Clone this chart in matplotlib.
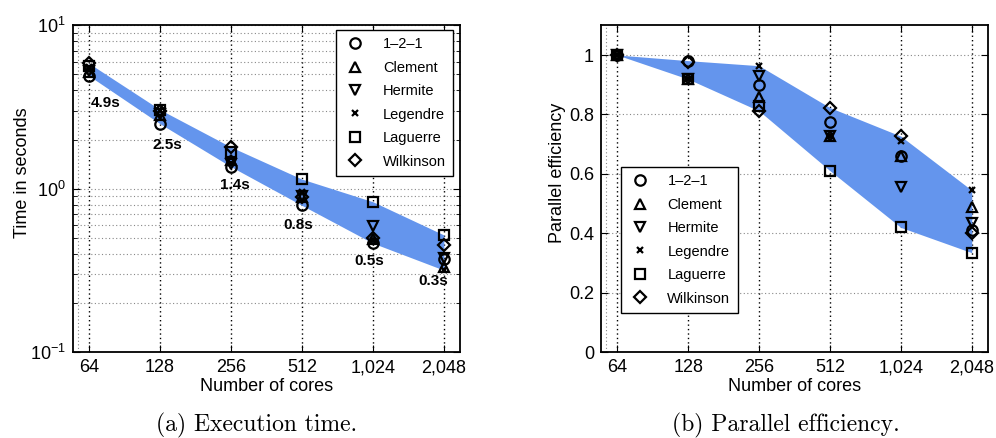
import numpy as np
import matplotlib
matplotlib.use('Agg')
import matplotlib.pyplot as plt
from matplotlib.ticker import FixedLocator, LogLocator, NullFormatter

plt.rcParams['font.family'] = ['Liberation Sans', 'DejaVu Sans']
plt.rcParams['mathtext.fontset'] = 'custom'
plt.rcParams['mathtext.rm'] = 'Liberation Sans'
plt.rcParams['mathtext.it'] = 'Liberation Sans:italic'
plt.rcParams['mathtext.bf'] = 'Liberation Sans:bold'

CORES = [64, 128, 256, 512, 1024, 2048]
CORE_LABELS = ['64', '128', '256', '512', '1,024', '2,048']
METHODS = ['1\u20132\u20131', 'Clement', 'Hermite', 'Legendre', 'Laguerre', 'Wilkinson']
MARKERS = ['o', '^', 'v', 'x', 's', 'D']

# execution time in seconds, one list per method
time_121 = [4.91, 2.50, 1.365, 0.792, 0.465, 0.372]
time_clement = [5.20, 2.83, 1.51, 0.894, 0.492, 0.332]
time_hermite = [5.25, 2.86, 1.414, 0.903, 0.590, 0.377]
time_legendre = [5.55, 3.02, 1.44, 0.954, 0.489, 0.318]
time_laguerre = [5.60, 3.05, 1.69, 1.146, 0.833, 0.522]
time_wilkinson = [5.85, 3.00, 1.80, 0.888, 0.503, 0.456]

# parallel efficiency, one list per method
eff_121 = [1.0, 0.981, 0.899, 0.775, 0.660, 0.412]
eff_clement = [1.0, 0.919, 0.860, 0.727, 0.660, 0.489]
eff_hermite = [1.0, 0.919, 0.928, 0.727, 0.556, 0.435]
eff_legendre = [1.0, 0.919, 0.964, 0.727, 0.710, 0.545]
eff_laguerre = [1.0, 0.919, 0.827, 0.611, 0.420, 0.335]
eff_wilkinson = [1.0, 0.975, 0.812, 0.823, 0.727, 0.401]

TIME_LABELS = ['4.9s', '2.5s', '1.4s', '0.8s', '0.5s', '0.3s']
TIME_LABEL_VALUES = [4.9, 2.5, 1.4, 0.8, 0.5, 0.3]
# label offsets in pixels (dx, dy) from the labelled value
LABEL_OFFSETS = [(17, -27), (7, -21), (4, -20), (-4, -20), (-4, -23), (-11, -7)]

BAND_COLOR = '#6495ED'


def style_axis(ax):
    x = np.log2(CORES)
    ax.set_xlim(x[0] - 0.23, x[-1] + 0.23)
    ax.xaxis.set_major_locator(FixedLocator(x))
    ax.set_xticklabels(CORE_LABELS)
    ax.xaxis.set_minor_locator(FixedLocator([x[0] - 0.155]))
    ax.grid(True, which='major', axis='x', linestyle=(0, (1, 2.2)), color='black', linewidth=1.0)
    ax.grid(True, which='minor', axis='x', linestyle=(0, (1, 2.2)), color='#888888', linewidth=0.8)
    ax.tick_params(which='both', direction='in', top=True, right=True, labelsize=13, pad=5)
    ax.tick_params(which='major', length=5, width=0.8)
    ax.tick_params(which='minor', length=3, width=0.6)
    ax.tick_params(axis='x', which='minor', length=0)
    for s in ax.spines.values():
        s.set_linewidth(1.3)
    ax.set_xlabel('Number of cores', fontsize=13)
    ax.xaxis.set_label_coords(0.5, -0.08)
    ax.set_axisbelow(True)


def plot_series(ax, series):
    x = np.log2(CORES)
    data = np.array(series)
    ax.fill_between(x, data.min(axis=0), data.max(axis=0), color=BAND_COLOR, linewidth=0, zorder=1)
    handles = []
    for vals, m, name in zip(series, MARKERS, METHODS):
        ms = 5 if m == 'x' else (6 if m == 'D' else 7.5)
        h, = ax.plot(x, vals, linestyle='none', marker=m, markersize=ms, markerfacecolor='none',
                     markeredgecolor='black', markeredgewidth=1.6, color='black', label=name, zorder=3)
        handles.append(h)
    return handles


fig = plt.figure(figsize=(9.96, 4.38), dpi=100)
ax1 = fig.add_axes([0.073, 0.1957, 0.389, 0.7466])
ax2 = fig.add_axes([0.6034, 0.1957, 0.3886, 0.7466])

# (a) execution time
times = [time_121, time_clement, time_hermite, time_legendre, time_laguerre, time_wilkinson]
handles = plot_series(ax1, times)
ax1.set_yscale('log')
ax1.set_ylim(0.1, 10)
ax1.yaxis.set_major_locator(LogLocator(base=10, numticks=5))
ax1.yaxis.set_minor_locator(LogLocator(base=10, subs=np.arange(2, 10), numticks=20))
ax1.yaxis.set_minor_formatter(NullFormatter())
ax1.grid(True, which='both', axis='y', linestyle=(0, (1, 2.2)), color='#888888', linewidth=0.8)
style_axis(ax1)
ax1.set_ylabel('Time in seconds', fontsize=13)
ax1.yaxis.set_label_coords(-0.108, 0.55)
for xi, lab, val, off in zip(np.log2(CORES), TIME_LABELS, TIME_LABEL_VALUES, LABEL_OFFSETS):
    ax1.annotate(lab, (xi, val), xytext=(off[0] * 0.72, off[1] * 0.72), textcoords='offset points',
                 ha='center', va='center', fontsize=11, fontweight='bold', zorder=4)
ax1.legend(handles=handles, loc='upper right', bbox_to_anchor=(0.982, 0.986), borderaxespad=0,
           fontsize=10.5, fancybox=False, edgecolor='black', framealpha=1, numpoints=1,
           handlelength=1.6, handletextpad=1.1, labelspacing=0.65, borderpad=0.5
           ).get_frame().set_linewidth(1.0)

# (b) parallel efficiency
effs = [eff_121, eff_clement, eff_hermite, eff_legendre, eff_laguerre, eff_wilkinson]
handles = plot_series(ax2, effs)
ax2.set_ylim(0, 1.1)
ax2.set_yticks([0, 0.2, 0.4, 0.6, 0.8, 1.0])
ax2.set_yticklabels(['0', '0.2', '0.4', '0.6', '0.8', '1'])
ax2.grid(True, which='major', axis='y', linestyle=(0, (1, 2.2)), color='#888888', linewidth=0.8)
style_axis(ax2)
ax2.set_ylabel('Parallel efficiency', fontsize=13)
ax2.yaxis.set_label_coords(-0.09, 0.55)
ax2.legend(handles=handles, loc='upper left', bbox_to_anchor=(0.051, 0.567), borderaxespad=0,
           fontsize=10.5, fancybox=False, edgecolor='black', framealpha=1, numpoints=1,
           handlelength=1.6, handletextpad=1.1, labelspacing=0.65, borderpad=0.5
           ).get_frame().set_linewidth(1.0)

fig.text(257 / 996, 1 - 425 / 438, '(a) Execution time.', family='cmr10', fontsize=17,
         ha='center', va='center')
fig.text(786 / 996, 1 - 425 / 438, '(b) Parallel efficiency.', family='cmr10', fontsize=17,
         ha='center', va='center')

fig.savefig('out.png', dpi=100)
